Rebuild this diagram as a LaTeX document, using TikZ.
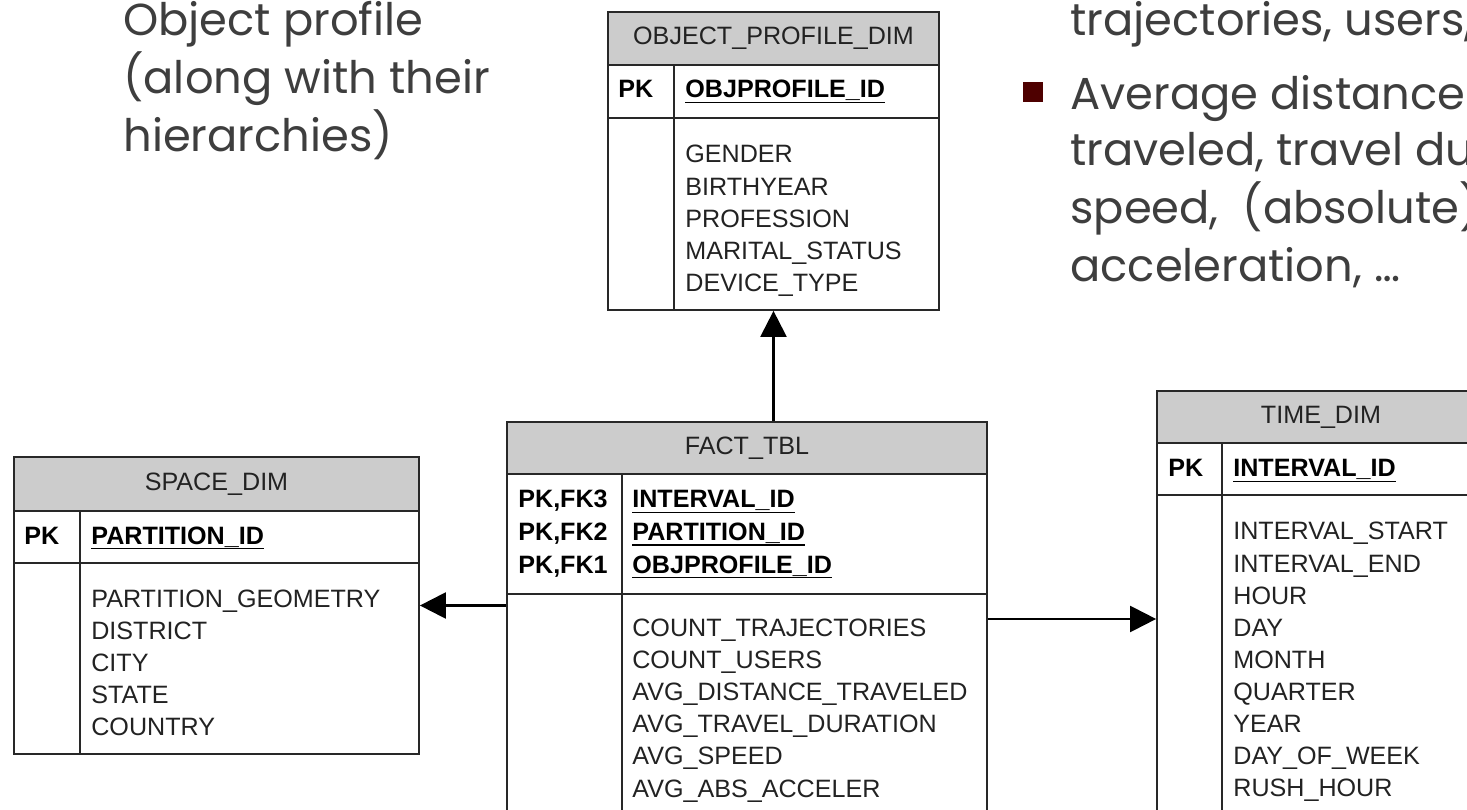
\documentclass[tikz,border=0pt]{standalone}
\usepackage{fontspec}
\setmainfont{Liberation Sans}
\newfontfamily\slidefont{Poppins}
\usetikzlibrary{arrows.meta,positioning,fit}
\definecolor{hdrgray}{RGB}{204,204,204}
\definecolor{rulegray}{RGB}{40,40,40}
\definecolor{fieldtxt}{RGB}{34,34,34}
\definecolor{slidetxt}{RGB}{62,62,62}
\definecolor{bulletred}{RGB}{78,0,0}
\newcommand{\tblfont}{\fontsize{14.3}{18}\selectfont}
% thick underline for key columns
\newcommand{\keyul}[1]{\leavevmode\setbox0\hbox{#1}%
  \rlap{\vrule height -2.2pt depth 3.1pt width \wd0}\box0}

\begin{document}
\begin{tikzpicture}[
  x=0.02cm, y=-0.02cm,
  font=\tblfont,
  tbl/.style={draw=rulegray, line width=1pt, inner sep=0pt},
  hdr/.style={tbl, fill=hdrgray},
  hdrtxt/.style={inner sep=0pt, text=fieldtxt},
  field/.style={anchor=base west, inner sep=0pt, text=fieldtxt},
  keyfield/.style={field, font=\tblfont\bfseries, text=black},
  slide/.style={anchor=base west, inner sep=0pt, text=slidetxt,
                font=\slidefont\fontsize{25.5}{33}\selectfont},
  bullet/.style={fill=bulletred, inner sep=0pt, minimum size=0.4cm},
  fk/.style={-{Triangle[length=0.52cm, width=0.52cm]}, line width=1.3pt}
]
  \useasboundingbox (0,0) rectangle (1467,810);
  \clip (0,0) rectangle (1467,810);

  % slide text
  \node[slide] (note1) at (123,36) {Object profile};
  \node[slide] (note2) at (123,94) {(along with their};
  \node[slide] (note3) at (123,152) {hierarchies)};
  \node[bullet] (dot) at (1033,92) {};
  \node[slide] (meas1) at (1070,36) {trajectories, users,};
  \node[slide] (meas2) at (1070,110) {Average distance};
  \node[slide] (meas3) at (1070,166) {traveled, travel duration,};
  \node[slide] (meas4) at (1070,224) {speed,\ \ (absolute)};
  \node[slide] (meas5) at (1070,282) {acceleration, …};

  % OBJECT_PROFILE_DIM
  \node[tbl, fit={(608,12) (939,310)}] (op) {};
  \node[hdr, fit={(608,12) (939,65)}] (op-h) {};
  \node[hdrtxt] (op-t) at (op-h.center) {OBJECT\_PROFILE\_DIM};
  \draw[tbl] (608,118) -- (939,118);
  \draw[tbl] (674,65) -- (674,310);
  \node[keyfield] (op-pk) at (618,98) {PK};
  \node[keyfield] (op-id) at (685,98) {\keyul{OBJPROFILE\_ID}};
  \foreach \f [count=\i from 0] in {GENDER, BIRTHYEAR, PROFESSION,
      MARITAL\_STATUS, DEVICE\_TYPE}
    \node[field] (op-f\i) at (685,{163+32.25*\i}) {\f};

  % SPACE_DIM
  \node[tbl, fit={(14,457) (419,754)}] (sp) {};
  \node[hdr, fit={(14,457) (419,511)}] (sp-h) {};
  \node[hdrtxt] (sp-t) at (sp-h.center) {SPACE\_DIM};
  \draw[tbl] (14,563) -- (419,563);
  \draw[tbl] (80,511) -- (80,754);
  \node[keyfield] (sp-pk) at (24,544) {PK};
  \node[keyfield] (sp-id) at (91,544) {\keyul{PARTITION\_ID}};
  \foreach \f [count=\i from 0] in {PARTITION\_GEOMETRY, DISTRICT, CITY,
      STATE, COUNTRY}
    \node[field] (sp-f\i) at (91,{607+32*\i}) {\f};

  % FACT_TBL
  \node[tbl, fit={(507,422) (987,830)}] (fact) {};
  \node[hdr, fit={(507,422) (987,474)}] (fact-h) {};
  \node[hdrtxt] (fact-t) at (fact-h.center) {FACT\_TBL};
  \draw[tbl] (507,594) -- (987,594);
  \draw[tbl] (622,474) -- (622,830);
  \foreach \k/\f [count=\i from 0] in {PK{,}FK3/INTERVAL\_ID,
      PK{,}FK2/PARTITION\_ID, PK{,}FK1/OBJPROFILE\_ID} {
    \node[keyfield] (fact-k\i) at (518,{508+32.5*\i}) {\k};
    \node[keyfield] (fact-id\i) at (632,{508+32.5*\i}) {\keyul{\f}};
  }
  \foreach \f [count=\i from 0] in {COUNT\_TRAJECTORIES, COUNT\_USERS,
      AVG\_DISTANCE\_TRAVELED, AVG\_TRAVEL\_DURATION, AVG\_SPEED,
      AVG\_ABS\_ACCELER}
    \node[field] (fact-f\i) at (632,{636+32.2*\i}) {\f};

  % TIME_DIM
  \node[tbl, fit={(1157,391) (1485,847)}] (tm) {};
  \node[hdr, fit={(1157,391) (1485,443)}] (tm-h) {};
  \node[hdrtxt] (tm-t) at (tm-h.center) {TIME\_DIM};
  \draw[tbl] (1157,495) -- (1485,495);
  \draw[tbl] (1222,443) -- (1222,847);
  \node[keyfield] (tm-pk) at (1168,477) {PK};
  \node[keyfield] (tm-id) at (1233,477) {\keyul{INTERVAL\_ID}};
  \foreach \f [count=\i from 0] in {INTERVAL\_START, INTERVAL\_END, HOUR,
      DAY, MONTH, QUARTER, YEAR, DAY\_OF\_WEEK, RUSH\_HOUR}
    \node[field] (tm-f\i) at (1233,{540+32.1*\i}) {\f};

  % foreign keys
  \draw[fk] (fact.north -| op.south) -- (op.south);
  \draw[fk] (fact.west |- sp.east) -- (sp.east);
  \draw[fk] (fact.east |- tm.west) -- (tm.west);
\end{tikzpicture}
\end{document}
